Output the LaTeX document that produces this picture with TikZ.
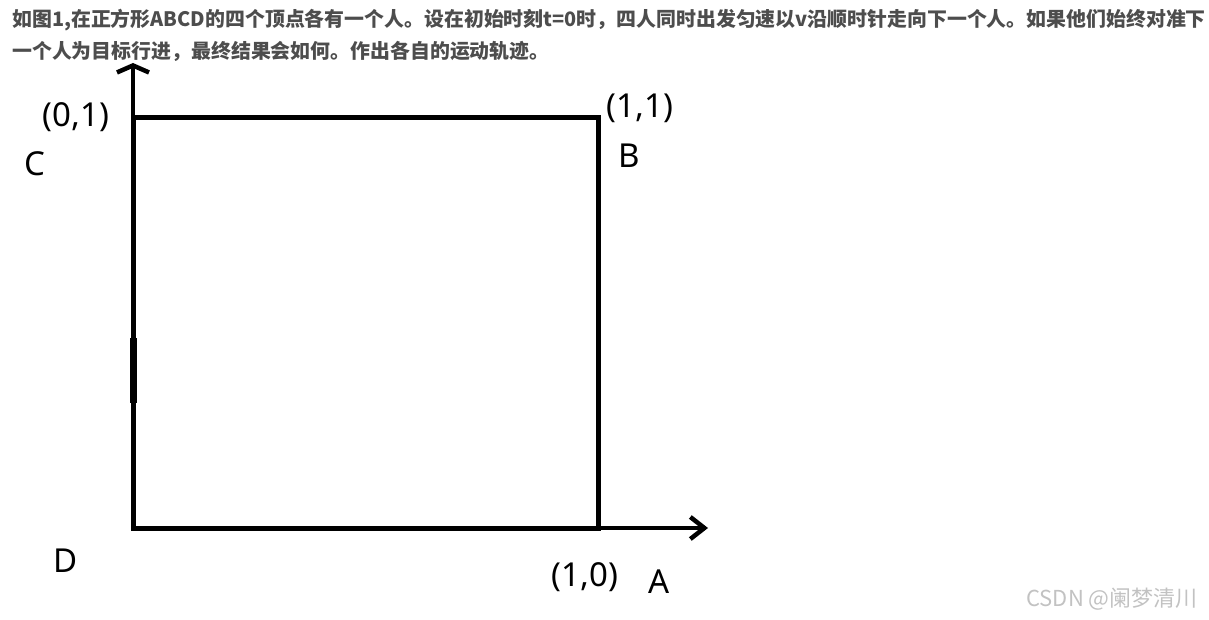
\documentclass[tikz,border=0pt]{standalone}
\usepackage{fontspec}
\setmainfont{Noto Sans}
\newfontfamily\cjk{Noto Sans CJK SC}
\usepackage{xcolor}
\usetikzlibrary{arrows.meta,positioning}
\definecolor{textgray}{HTML}{4D4D4D}
\definecolor{markgray}{HTML}{C2C2C2}

\begin{document}
\begin{tikzpicture}[
    x=1pt, y=-1pt,
    side/.style={line width=5pt, line join=miter},
    yaxis/.style={line width=4.5pt, -{Straight Barb[length=7pt,width=32pt]}},
    xaxis/.style={line width=4.5pt, -{Straight Barb[length=14pt,width=22pt]}},
    tag/.style={inner sep=0pt, font=\fontsize{33}{36}\selectfont},
    task/.style={anchor=base west, inner sep=0pt, text=textgray,
        font=\cjk\bfseries\fontsize{19.9}{22}\selectfont}
]
    \useasboundingbox (0,0) rectangle (1209,620);

    % Task text
    \node[task] (line1) at (12,27) {如图1,在正方形ABCD的四个顶点各有一个人。设在初始时刻t=0时，四人同时出发匀速以v沿顺时针走向下一个人。如果他们始终对准下};
    \node[task] (line2) at (12,59) {一个人为目标行进，最终结果会如何。作出各自的运动轨迹。};

    % Corners and axis ends
    \coordinate (d) at (133,528);
    \coordinate (c) at (133,118);
    \coordinate (b) at (598,118);
    \coordinate (a) at (598,528);
    \coordinate (ytip) at (133,63);
    \coordinate (xtip) at (708,528);

    % Square and axes
    \draw[side] (d) -- (c) -- (b) -- (a) -- cycle;
    \draw[yaxis] (c) -- (ytip);
    \draw[xaxis] (a) -- (xtip);
    \draw[line width=7pt] (133,338) -- (133,403);

    % Labels
    \node[tag] (pc) at (76,117) {(0,1)};
    \node[tag] (lc) at (35,164) {C};
    \node[tag] (pb) at (640,108) {(1,1)};
    \node[tag] (lb) at (629,156) {B};
    \node[tag] (ld) at (66,561) {D};
    \node[tag] (pa) at (585,577) {(1,0)};
    \node[tag] (la) at (659,582) {A};

    % Watermark
    \node[inner sep=0pt, text=markgray, font=\cjk\fontsize{22}{24}\selectfont] (mark) at (1112,599) {CSDN @阑梦清川};
\end{tikzpicture}
\end{document}
